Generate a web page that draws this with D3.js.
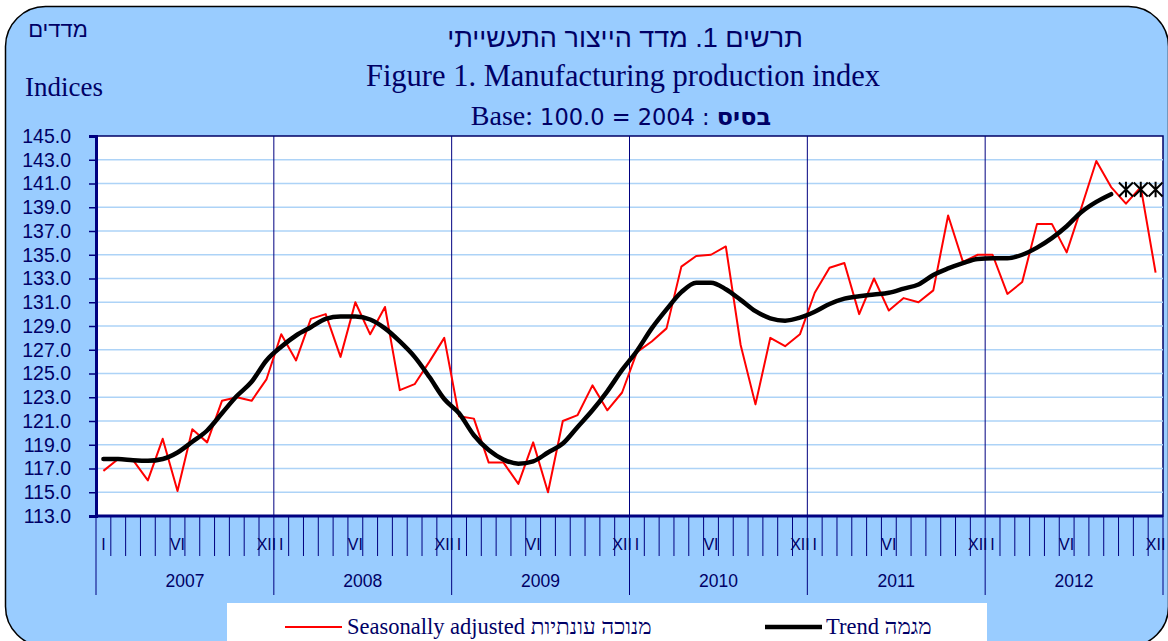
<!DOCTYPE html>
<html>
<head>
<meta charset="utf-8">
<script src="https://cdn.jsdelivr.net/npm/d3@7"></script>
<style>
  html, body { margin: 0; padding: 0; background: #ffffff; }
  svg { display: block; }
</style>
</head>
<body>
<svg id="chart" width="1168" height="641"></svg>
<script>
// ---------------- DATA ----------------
const years = [2007, 2008, 2009, 2010, 2011, 2012];
const monthLabels = ["I", "", "", "", "", "VI", "", "", "", "", "", "XII"];
const yTicks = [113, 115, 117, 119, 121, 123, 125, 127, 129, 131, 133, 135, 137, 139, 141, 143, 145];

// Seasonally adjusted (Jan 2007 - Dec 2012)
const seasonal = [
  116.8, 117.8, 117.7, 116.0, 119.5, 115.1, 120.3, 119.2, 122.7, 123.0, 122.7, 124.5,
  128.3, 126.1, 129.6, 130.0, 126.4, 131.0, 128.3, 130.6, 123.6, 124.1, 126.0, 128.0,
  121.4, 121.2, 117.5, 117.5, 115.7, 119.2, 115.0, 121.0, 121.5, 124.0, 121.9, 123.4,
  126.8, 127.7, 128.8, 134.0, 134.9, 135.0, 135.7, 127.4, 122.4, 128.0, 127.3, 128.3,
  131.8, 133.9, 134.3, 130.0, 133.0, 130.3, 131.35, 131.0, 132.0, 138.3, 134.4, 135.0,
  135.0, 131.7, 132.7, 137.6, 137.6, 135.2, 139.0, 142.9, 140.7, 139.3, 140.7, 133.5
];

// Trend (Jan 2007 - Sep 2012)
const trend = [
  117.8, 117.8, 117.7, 117.65, 117.8, 118.35, 119.25, 120.2, 121.65, 123.1, 124.3, 126.1,
  127.25, 128.2, 128.9, 129.6, 129.8, 129.8, 129.55, 128.8, 127.7, 126.4, 124.7, 122.85,
  121.65, 119.8, 118.55, 117.75, 117.4, 117.6, 118.35, 119.1, 120.5, 121.9, 123.5, 125.3,
  126.9, 128.8, 130.4, 131.85, 132.65, 132.65, 132.1, 131.2, 130.25, 129.65, 129.45, 129.7,
  130.2, 130.85, 131.3, 131.5, 131.65, 131.8, 132.15, 132.5, 133.3, 133.85, 134.3, 134.65,
  134.7, 134.7, 135.0, 135.6, 136.4, 137.4, 138.6, 139.45, 140.1
];

// Provisional trend markers (Oct - Dec 2012)
const provisionalIndex = [69, 70, 71];
const provisional = [140.5, 140.5, 140.5];

// ---------------- LAYOUT ----------------
const navy = "#000066";
const svg = d3.select("#chart");
const L = 96, R = 1163, T = 136, B = 516;

const months = d3.range(years.length * 12);
const x = d3.scaleBand().domain(months).range([L, R]).padding(0);
const xc = i => x(i) + x.bandwidth() / 2;
const y = d3.scaleLinear().domain([113, 145]).range([B, T]);

// background panel
svg.append("rect")
  .attr("x", 5.5).attr("y", 6.5).attr("width", 1163).attr("height", 640)
  .attr("rx", 40).attr("ry", 40)
  .attr("fill", "#99CCFF").attr("stroke", "#000").attr("stroke-width", 1.5);

// titles
svg.append("text").attr("x", 625).attr("y", 47)
  .attr("text-anchor", "middle").attr("direction", "rtl")
  .attr("font-family", "Liberation Sans, Arial, sans-serif").attr("font-size", 27)
  .attr("fill", navy).text("תרשים 1. מדד הייצור התעשייתי");

svg.append("text").attr("x", 623).attr("y", 86)
  .attr("text-anchor", "middle")
  .attr("font-family", "Liberation Serif, Times New Roman, serif").attr("font-size", 30.5)
  .attr("fill", navy).text("Figure 1. Manufacturing production index");

const base = svg.append("text").attr("x", 621).attr("y", 125)
  .attr("text-anchor", "middle").attr("fill", navy);
base.append("tspan").attr("font-family", "Liberation Serif, Times New Roman, serif").attr("font-size", 28).text("Base: ");
base.append("tspan").attr("font-family", "DejaVu Sans, sans-serif").attr("font-size", 22.5).text("100.0 = 2004 : ");
base.append("tspan").attr("font-family", "DejaVu Sans, sans-serif").attr("font-size", 24).attr("font-weight", "bold").text("בסיס");

svg.append("text").attr("x", 58).attr("y", 37)
  .attr("text-anchor", "middle").attr("direction", "rtl")
  .attr("font-family", "Liberation Sans, Arial, sans-serif").attr("font-size", 22)
  .attr("fill", navy).text("מדדים");

svg.append("text").attr("x", 25).attr("y", 96)
  .attr("font-family", "Liberation Serif, Times New Roman, serif").attr("font-size", 27)
  .attr("fill", navy).text("Indices");

// plot area
svg.append("rect").attr("x", L).attr("y", T).attr("width", R - L).attr("height", B - T)
  .attr("fill", "#fff").attr("stroke", navy).attr("stroke-width", 1.5);

// horizontal gridlines
svg.append("g").selectAll("line").data(yTicks.filter(v => v > 113 && v < 145)).join("line")
  .attr("x1", L).attr("x2", R).attr("y1", d => y(d)).attr("y2", d => y(d))
  .attr("stroke", "#ADD3F7").attr("stroke-width", 1.6);

// vertical year lines inside plot
svg.append("g").selectAll("line").data(years.slice(1).map((yr, i) => (i + 1) * 12)).join("line")
  .attr("x1", d => x(d)).attr("x2", d => x(d)).attr("y1", T).attr("y2", B)
  .attr("stroke", "#000080").attr("stroke-width", 1);

// y axis
const yAxis = svg.append("g").attr("transform", `translate(${L},0)`)
  .call(d3.axisLeft(y).tickValues(yTicks).tickFormat(d3.format(".1f")).tickSize(7).tickPadding(18));
yAxis.select(".domain").attr("stroke", "#000080").attr("stroke-width", 3);
yAxis.selectAll(".tick line").attr("stroke", "#000080").attr("stroke-width", 1.5);
yAxis.selectAll(".tick text").attr("fill", navy)
  .attr("font-family", "Liberation Sans, Arial, sans-serif").attr("font-size", 19.5);

// x axis: bottom line
svg.append("line").attr("x1", L).attr("x2", R).attr("y1", B).attr("y2", B)
  .attr("stroke", "#000080").attr("stroke-width", 3);

// month ticks
const boundaries = d3.range(months.length + 1);
const xpos = k => k < months.length ? x(k) : R;
svg.append("g").selectAll("line").data(boundaries).join("line")
  .attr("x1", d => xpos(d)).attr("x2", d => xpos(d))
  .attr("y1", B).attr("y2", d => d % 12 === 0 ? 595 : 556)
  .attr("stroke", "#000080").attr("stroke-width", 1);

// month labels
svg.append("g").selectAll("text").data(months.filter(i => monthLabels[i % 12] !== "")).join("text")
  .attr("x", d => xc(d)).attr("y", 550).attr("text-anchor", "middle")
  .attr("font-family", "Liberation Sans, Arial, sans-serif").attr("font-size", 16)
  .attr("fill", navy).text(d => monthLabels[d % 12]);

// year labels
svg.append("g").selectAll("text").data(years).join("text")
  .attr("x", (d, i) => (x(i * 12) + xpos((i + 1) * 12)) / 2).attr("y", 587).attr("text-anchor", "middle")
  .attr("font-family", "Liberation Sans, Arial, sans-serif").attr("font-size", 17.5)
  .attr("fill", navy).text(d => d);

// series
const plot = svg.append("g");
plot.append("path").datum(seasonal)
  .attr("d", d3.line().x((d, i) => xc(i)).y(d => y(d)))
  .attr("fill", "none").attr("stroke", "#FF0000").attr("stroke-width", 2).attr("stroke-linejoin", "round");

plot.append("path").datum(trend)
  .attr("d", d3.line().x((d, i) => xc(i)).y(d => y(d)).curve(d3.curveMonotoneX))
  .attr("fill", "none").attr("stroke", "#000").attr("stroke-width", 4.5)
  .attr("stroke-linecap", "round").attr("stroke-linejoin", "round");

// asterisk markers
const s = 7;
plot.selectAll("path.star").data(provisional).join("path").attr("class", "star")
  .attr("transform", (d, i) => `translate(${xc(provisionalIndex[i])},${y(d)})`)
  .attr("d", `M${-s},${-s}L${s},${s}M${-s},${s}L${s},${-s}M0,${-s * 1.1}L0,${s * 1.1}`)
  .attr("stroke", "#000").attr("stroke-width", 2).attr("fill", "none");

// legend
svg.append("rect").attr("x", 227).attr("y", 603).attr("width", 760).attr("height", 40).attr("fill", "#fff");
const lg = svg.append("g");
lg.append("line").attr("x1", 285).attr("x2", 342).attr("y1", 627).attr("y2", 627)
  .attr("stroke", "#FF0000").attr("stroke-width", 2);
lg.append("text").attr("x", 347).attr("y", 634)
  .attr("font-family", "Liberation Serif, Times New Roman, serif").attr("font-size", 22.5)
  .attr("fill", navy).text("Seasonally adjusted מנוכה עונתיות");
lg.append("line").attr("x1", 765).attr("x2", 822).attr("y1", 627).attr("y2", 627)
  .attr("stroke", "#000").attr("stroke-width", 4.5);
lg.append("text").attr("x", 826).attr("y", 634)
  .attr("font-family", "Liberation Serif, Times New Roman, serif").attr("font-size", 22.5)
  .attr("fill", navy).text("Trend מגמה");
</script>
</body>
</html>
